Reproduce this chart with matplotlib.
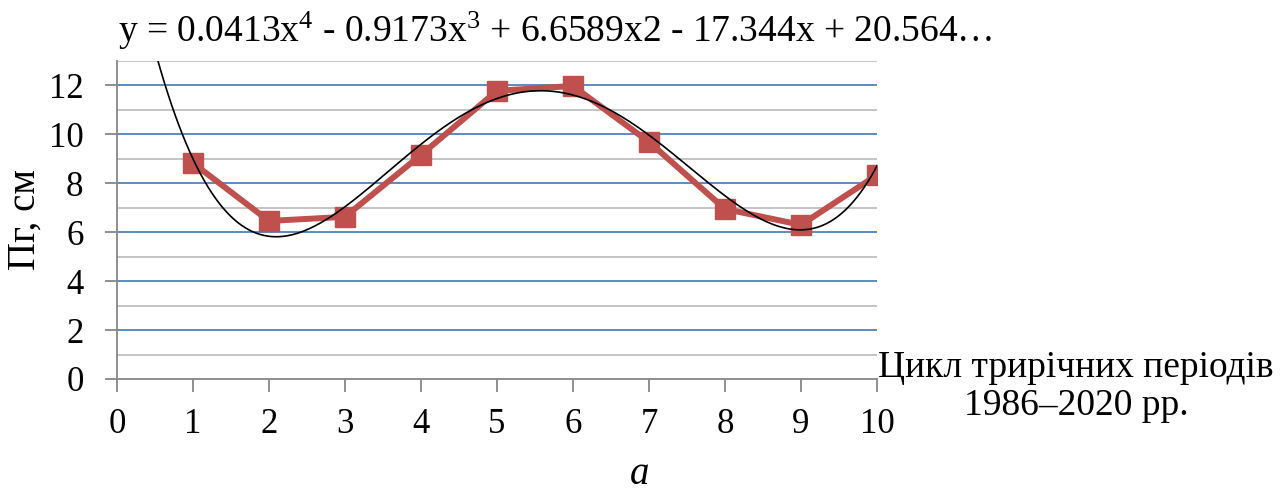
import numpy as np
import matplotlib.pyplot as plt

plt.rcParams['font.family'] = ['Liberation Serif', 'DejaVu Serif']
plt.rcParams['mathtext.fontset'] = 'custom'
plt.rcParams['mathtext.rm'] = 'Liberation Serif'
plt.rcParams['mathtext.it'] = 'Liberation Serif:italic'

# three-year periods and measured values
periods = [1, 2, 3, 4, 5, 6, 7, 8, 9, 10]
pg = [8.83, 6.46, 6.63, 9.16, 11.78, 11.98, 9.69, 6.95, 6.30, 8.34]

# 4th order trend line coefficients (highest power first)
trend = [0.0413, -0.9173, 6.6589, -17.344, 20.564]

fig = plt.figure(figsize=(12.85, 4.92), dpi=100)
ax = fig.add_axes([0.091, 0.2297, 0.5915, 0.6463])

blue = '#4F81BD'
grey = '#BFBFBF'
for v in range(1, 14):
    ax.axhline(v, color=blue if v % 2 == 0 else grey, lw=1.3, zorder=1)

ax.plot(periods, pg, color='#C0504D', lw=4.3, marker='s', ms=14,
        zorder=3)

xs = np.linspace(0.3, 10, 400)
ax.plot(xs, np.polyval(trend, xs), color='black', lw=1.2, zorder=4)

ax.set_xlim(0, 10)
ax.set_ylim(0, 13)
ax.set_xticks(range(0, 11))
ax.set_yticks(range(0, 13, 2))
for s in ['top', 'right']:
    ax.spines[s].set_visible(False)
for s in ['left', 'bottom']:
    ax.spines[s].set_color('#868686')
    ax.spines[s].set_linewidth(1.3)
ax.tick_params(axis='both', colors='#868686', width=1.3, length=9,
               labelsize=25, labelcolor='black')
ax.tick_params(axis='x', pad=12)
ax.tick_params(axis='y', pad=15)

ax.set_ylabel('Пг, см', fontsize=28, labelpad=4)

fig.text(0.092, 0.915,
         'y = 0.0413x$^{4}$ - 0.9173x$^{3}$ + 6.6589x2 - 17.344x + 20.564…',
         fontsize=27, ha='left', va='baseline')
fig.text(0.8375, 0.214, 'Цикл трирічних періодів\n1986–2020 рр.',
         fontsize=27, ha='center', va='center', linespacing=1.12)
fig.text(0.498, 0.016, 'а', fontsize=28, style='italic', ha='center',
         va='baseline')

fig.savefig('out.png', dpi=100)
